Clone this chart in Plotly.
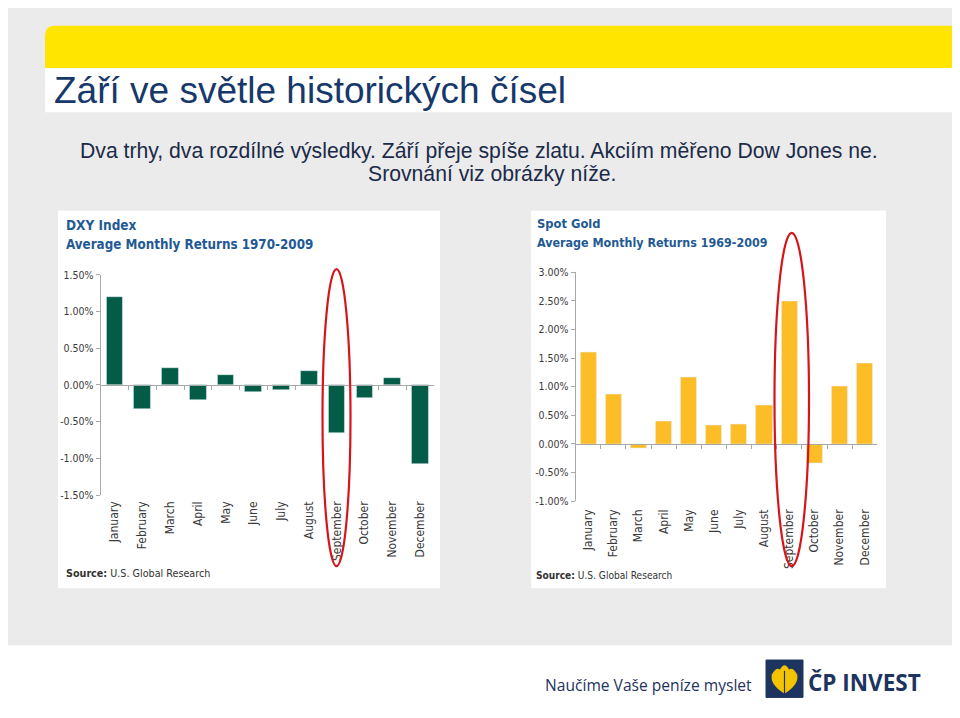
import plotly.graph_objects as go

W, H = 960, 718

months = ["January", "February", "March", "April", "May", "June", "July",
          "August", "September", "October", "November", "December"]
dxy_returns = [1.20, -0.32, 0.23, -0.21, 0.13, -0.10, -0.07, 0.19, -0.65, -0.17, 0.10, -1.07]
gold_returns = [1.60, 0.87, -0.07, 0.39, 1.16, 0.33, 0.34, 0.68, 2.50, -0.34, 1.01, 1.41]

dxy_ticks = [1.5, 1.0, 0.5, 0.0, -0.5, -1.0, -1.5]
dxy_ticktext = ["1.50%", "1.00%", "0.50%", "0.00%", "-0.50%", "-1.00%", "-1.50%"]
gold_ticks = [3.0, 2.5, 2.0, 1.5, 1.0, 0.5, 0.0, -0.5, -1.0]
gold_ticktext = ["3.00%", "2.50%", "2.00%", "1.50%", "1.00%", "0.50%", "0.00%", "-0.50%", "-1.00%"]

title = "Září ve světle historických čísel"
subtitle1 = "Dva trhy, dva rozdílné výsledky. Září přeje spíše zlatu. Akciím měřeno Dow Jones ne."
subtitle2 = "Srovnání viz obrázky níže."
dxy_title1 = "DXY Index"
dxy_title2 = "Average Monthly Returns 1970-2009"
gold_title1 = "Spot Gold"
gold_title2 = "Average Monthly Returns 1969-2009"
source_text = "<b>Source:</b> U.S. Global Research"
slogan = "Naučíme Vaše peníze myslet"
brand = "ČP INVEST"

# page body margin offset (the figure sits 8px from the window corner)
OFF = 8


def px(x):
    return (x - OFF) / W


def py(y):
    return 1 - (y - OFF) / H


NARROW = "Liberation Sans Narrow, Arial Narrow, DejaVu Sans Condensed, sans-serif"
ARIAL = "Liberation Sans, Arial, sans-serif"
GREEN = "#035c45"
GOLD = "#fcbd26"
AXC = "#a8a8a8"
NAVY = "#17386b"

fig = go.Figure()

# ---- panel geometry (screen pixels) ----
L_x0, L_x1 = 100.7, 434.0
L_ytop, L_ybot = 273.4, 497.2
L_range = [-1.5, 1.5]
R_x0, R_x1 = 575.7, 877.3
R_ytop, R_ybot = 270.7, 503.3
R_range = [-1.0, 3.0]


def zero_pos(ytop, ybot, rng):
    d0, d1 = py(ybot), py(ytop)
    return d0 + (0 - rng[0]) / (rng[1] - rng[0]) * (d1 - d0)


fig.add_trace(go.Bar(x=months, y=dxy_returns, marker_color=GREEN, width=0.6,
                     xaxis="x", yaxis="y", hoverinfo="x+y"))
fig.add_trace(go.Bar(x=months, y=gold_returns, marker_color=GOLD, width=0.64,
                     xaxis="x2", yaxis="y2", hoverinfo="x+y"))
# invisible helpers to carry the label axes
fig.add_trace(go.Scatter(x=list(range(12)), y=[0] * 12, mode="markers",
                         marker=dict(opacity=0), xaxis="x3", yaxis="y", hoverinfo="skip"))
fig.add_trace(go.Scatter(x=list(range(12)), y=[0] * 12, mode="markers",
                         marker=dict(opacity=0), xaxis="x4", yaxis="y2", hoverinfo="skip"))

tick_font = dict(family=NARROW, size=10.5, color="#3a3a3a")
lab_font = dict(family=NARROW, size=12, color="#3a3a3a")

fig.update_layout(
    width=W, height=H, margin=dict(l=0, r=0, t=0, b=0),
    paper_bgcolor="white", plot_bgcolor="rgba(0,0,0,0)", showlegend=False,
    bargap=0,
    xaxis=dict(domain=[px(L_x0), px(L_x1)], anchor="free",
               position=zero_pos(L_ytop, L_ybot, L_range), type="category",
               range=[-0.5, 11.5], showline=True, linecolor=AXC, linewidth=1,
               ticks="outside", tickson="boundaries", ticklen=4, tickcolor=AXC,
               showticklabels=False, showgrid=False, zeroline=False, fixedrange=True),
    yaxis=dict(domain=[py(L_ybot), py(L_ytop)], anchor="x", range=L_range,
               tickvals=dxy_ticks, ticktext=dxy_ticktext, showline=True,
               linecolor=AXC, linewidth=1, ticks="outside", ticklen=4, tickcolor=AXC,
               showgrid=False, zeroline=False, tickfont=tick_font, fixedrange=True),
    xaxis3=dict(overlaying="x", anchor="y", side="bottom", range=[-0.5, 11.5],
                tickvals=list(range(12)), ticktext=months, tickangle=-90,
                showline=False, ticks="", showgrid=False, zeroline=False,
                tickfont=lab_font, ticklabelstandoff=3, fixedrange=True),
    xaxis2=dict(domain=[px(R_x0), px(R_x1)], anchor="free",
                position=zero_pos(R_ytop, R_ybot, R_range), type="category",
                range=[-0.5, 11.5], showline=True, linecolor=AXC, linewidth=1,
                ticks="outside", tickson="boundaries", ticklen=4, tickcolor=AXC,
                showticklabels=False, showgrid=False, zeroline=False, fixedrange=True),
    yaxis2=dict(domain=[py(R_ybot), py(R_ytop)], anchor="x2", range=R_range,
                tickvals=gold_ticks, ticktext=gold_ticktext, showline=True,
                linecolor=AXC, linewidth=1, ticks="outside", ticklen=4, tickcolor=AXC,
                showgrid=False, zeroline=False, tickfont=tick_font, fixedrange=True),
    xaxis4=dict(overlaying="x2", anchor="y2", side="bottom", range=[-0.5, 11.5],
                tickvals=list(range(12)), ticktext=months, tickangle=-90,
                showline=False, ticks="", showgrid=False, zeroline=False,
                tickfont=lab_font, ticklabelstandoff=5, fixedrange=True),
)

shapes = []
# grey slide background
shapes.append(dict(type="rect", xref="paper", yref="paper", x0=px(2), x1=px(957),
                   y0=py(650), y1=py(2), fillcolor="#ebebeb", line_width=0, layer="below"))
# yellow bar with rounded top-left corner
r = 10
path = (f"M {px(45)},{py(63)} L {px(45)},{py(20 + r)} "
        f"Q {px(45)},{py(20)} {px(45 + r)},{py(20)} "
        f"L {px(962)},{py(20)} L {px(962)},{py(63)} Z")
shapes.append(dict(type="path", xref="paper", yref="paper", path=path,
                   fillcolor="#ffe500", line_width=0, layer="below"))
# white title strip
shapes.append(dict(type="rect", xref="paper", yref="paper", x0=px(45), x1=px(962),
                   y0=py(108), y1=py(63), fillcolor="white", line_width=0, layer="below"))
# chart panels
for (a, b) in [(58, 440), (531, 886)]:
    shapes.append(dict(type="rect", xref="paper", yref="paper", x0=px(a), x1=px(b),
                       y0=py(592), y1=py(208), fillcolor="white", line_width=0, layer="below"))
# red ellipses highlighting September
for (a, b, t, bt) in [(322.5, 350.5, 267.5, 569.5), (774.5, 809, 230.5, 569.5)]:
    shapes.append(dict(type="circle", xref="paper", yref="paper", x0=px(a), x1=px(b),
                       y0=py(bt), y1=py(t), line=dict(color="#d8141b", width=2.2),
                       fillcolor="rgba(0,0,0,0)", layer="above"))
# logo box
shapes.append(dict(type="rect", xref="paper", yref="paper", x0=px(766), x1=px(803),
                   y0=py(703), y1=py(665), fillcolor="#1d3461",
                   line=dict(color="#1d3461", width=1), layer="above"))
leaf = (f"M {px(784.5)},{py(699)} "
        f"Q {px(770)},{py(690)} {px(772)},{py(680)} "
        f"Q {px(776)},{py(672)} {px(780)},{py(675)} "
        f"Q {px(784.5)},{py(666)} {px(789)},{py(675)} "
        f"Q {px(793)},{py(672)} {px(797)},{py(680)} "
        f"Q {px(799)},{py(690)} {px(784.5)},{py(699)} Z")
shapes.append(dict(type="path", xref="paper", yref="paper", path=leaf,
                   fillcolor="#f5c400", line=dict(color="#f5c400", width=0.5), layer="above"))
shapes.append(dict(type="line", xref="paper", yref="paper", x0=px(784.5), x1=px(784.5),
                   y0=py(701), y1=py(676), line=dict(color="#1d3461", width=1.2), layer="above"))
fig.update_layout(shapes=shapes)

ann = []


def text(x, y, s, size, color, family=ARIAL, xanchor="left", weight=None):
    f = dict(family=family, size=size, color=color)
    if weight:
        f["weight"] = weight
    ann.append(dict(x=px(x), y=py(y), xref="paper", yref="paper", text=s, showarrow=False,
                    xanchor=xanchor, yanchor="middle", font=f))


text(52, 86, title, 37, NAVY, family=ARIAL)
text(479, 147, subtitle1, 21.2, "#1b2a48", xanchor="center")
text(492, 171, subtitle2, 21.2, "#1b2a48", xanchor="center")
text(64, 223, f"<b>{dxy_title1}</b>", 13.5, "#1f5a94", family=NARROW)
text(64, 242, f"<b>{dxy_title2}</b>", 13.3, "#1f5a94", family=NARROW)
text(535, 221, f"<b>{gold_title1}</b>", 12.8, "#1f5a94", family=NARROW)
text(535, 240, f"<b>{gold_title2}</b>", 12.4, "#1f5a94", family=NARROW)
text(64, 577, source_text, 10.7, "#333333", family=NARROW)
text(534, 579, source_text, 10.1, "#333333", family=NARROW)
text(543, 690, slogan, 15.6, "#1d3461", family="Open Sans, sans-serif")
text(806, 688, brand, 22.5, "#1d3461", family="Open Sans, sans-serif", weight=700)
fig.update_layout(annotations=ann)

fig.write_html("out.html")
